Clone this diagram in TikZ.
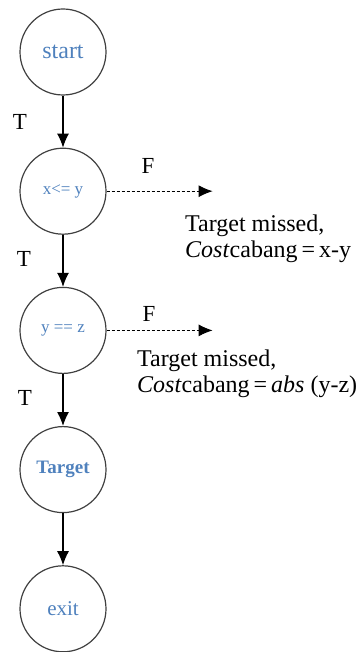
\documentclass[tikz,border=0pt]{standalone}
\usepackage{fontspec}
\setmainfont{Liberation Serif}
\usetikzlibrary{
  arrows.meta,
  positioning,
  calc
}
\definecolor{nodeblue}{HTML}{4F81BD}
\definecolor{ringgray}{HTML}{404040}

\begin{document}
\begin{tikzpicture}[
  x=1pt,
  y=1pt,
  node distance=52pt,
  state/.style={
    draw=ringgray,
    line width=1.2pt,
    circle,
    minimum size=86pt,
    inner sep=0pt,
    text=nodeblue
  },
  flow/.style={
    -{Latex[length=14pt,width=12pt]},
    line width=1.2pt
  },
  missflow/.style={
    -{Latex[length=14pt,width=12pt]},
    line width=0.9pt,
    dash pattern=on 3pt off 2pt
  },
  branch/.style={
    font=\fontsize{23}{25}\selectfont
  },
  note/.style={
    align=left,
    anchor=north west,
    inner sep=0pt,
    font=\fontsize{24}{26}\selectfont
  }
]

\useasboundingbox (0,0) rectangle (358,-652);

\node[state,font=\fontsize{24}{24}\selectfont] (start) at (63,-52) {start};
\node[state,below=of start,font=\fontsize{17}{17}\selectfont] (cmpxy) {x<= y};
\node[state,below=of cmpxy,font=\fontsize{17}{17}\selectfont] (cmpyz) {y == z};
\node[state,below=of cmpyz,font=\fontsize{19}{19}\selectfont\bfseries] (target) {Target};
\node[state,below=of target,font=\fontsize{21}{21}\selectfont] (exit) {exit};

% --- true branches ---
\draw[flow] (start) -- (cmpxy);
\draw[flow] (cmpxy) -- (cmpyz);
\draw[flow] (cmpyz) -- (target);
\draw[flow] (target) -- (exit);

\node[branch] (t1) at (20,-122) {T};
\node[branch] (t2) at (24,-259) {T};
\node[branch] (t3) at (25,-398) {T};

% --- false branches ---
\coordinate (missxy) at ($(cmpxy.east)+(106,0)$);
\coordinate (missyz) at ($(cmpyz.east)+(106,0)$);
\draw[missflow] (cmpxy.east) -- (missxy);
\draw[missflow] (cmpyz.east) -- (missyz);

\node[branch] (f1) at (148,-166) {F};
\node[branch] (f2) at (149,-314) {F};

\node[note] (notexy) at (185,-215)
  {Target missed,\\\textit{Cost}cabang\,=\,x-y};
\node[note] (noteyz) at (137,-350)
  {Target missed,\\\textit{Cost}cabang\,=\,\textit{abs} (y-z)};

\end{tikzpicture}
\end{document}
